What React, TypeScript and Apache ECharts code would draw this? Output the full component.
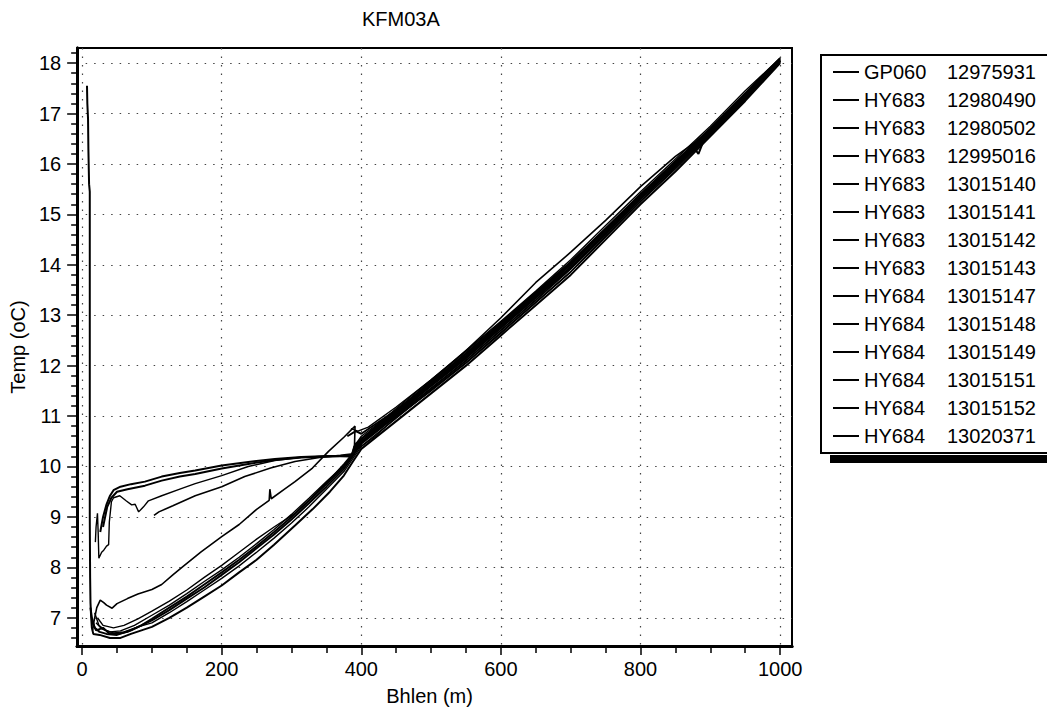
import React, { useEffect, useRef } from "react";
import * as echarts from "echarts";

// ---------- DATA ----------
const chartTitle = "KFM03A";
const xAxisName = "Bhlen (m)";
const yAxisName = "Temp (oC)";

const xMajorTicks = [0, 200, 400, 600, 800, 1000];
const xMinorTicks = [50, 100, 150, 250, 300, 350, 450, 500, 550, 650, 700, 750, 850, 900, 950];
const yMajorTicks = [7, 8, 9, 10, 11, 12, 13, 14, 15, 16, 17, 18];
const yMinorTicks = [
  6.6, 6.8, 7.2, 7.4, 7.6, 7.8, 8.2, 8.4, 8.6, 8.8, 9.2, 9.4, 9.6, 9.8,
  10.2, 10.4, 10.6, 10.8, 11.2, 11.4, 11.6, 11.8, 12.2, 12.4, 12.6, 12.8,
  13.2, 13.4, 13.6, 13.8, 14.2, 14.4, 14.6, 14.8, 15.2, 15.4, 15.6, 15.8,
  16.2, 16.4, 16.6, 16.8, 17.2, 17.4, 17.6, 17.8, 18.2,
];

const seriesNames = [
  "GP060 12975931",
  "HY683 12980490",
  "HY683 12980502",
  "HY683 12995016",
  "HY683 13015140",
  "HY683 13015141",
  "HY683 13015142",
  "HY683 13015143",
  "HY684 13015147",
  "HY684 13015148",
  "HY684 13015149",
  "HY684 13015151",
  "HY684 13015152",
  "HY684 13020371",
];

const s_12975931 = [
  [7, 17.55], [7.5, 17.2], [8.5, 16.9], [9, 16.3], [10, 15.6], [11, 15.45], [11, 14.5], [11, 12.5],
  [11, 10.5], [11, 9], [11.5, 7.8], [12, 7.3], [13, 7.0], [14, 6.8], [16, 6.68], [25, 6.66], [40, 6.6],
  [55, 6.6], [70, 6.68], [85, 6.75], [100, 6.82], [125, 7.0], [150, 7.2], [175, 7.42], [200, 7.64],
  [225, 7.9], [250, 8.15], [275, 8.45], [305, 8.83], [330, 9.15], [355, 9.5], [375, 9.82], [388, 10.1],
  [400, 10.35], [450, 10.9], [500, 11.45], [550, 12.0], [600, 12.6], [650, 13.2], [700, 13.8],
  [750, 14.5], [800, 15.2], [850, 15.85], [900, 16.55], [950, 17.25], [1000, 18.0],
];
const s_12980490 = [
  [14, 7.0], [18, 6.8], [25, 6.72], [35, 6.68], [50, 6.66], [70, 6.75], [100, 6.95], [125, 7.15],
  [150, 7.38], [175, 7.6], [200, 7.85], [225, 8.1], [250, 8.38], [275, 8.65], [300, 8.95], [325, 9.27],
  [350, 9.6], [375, 9.95], [390, 10.25], [400, 10.45], [450, 11.0], [500, 11.55], [550, 12.1],
  [600, 12.7], [650, 13.3], [700, 13.92], [750, 14.6], [800, 15.3], [850, 15.95], [900, 16.62],
  [950, 17.32], [1000, 18.05],
];
const s_12980502 = [
  [20, 6.9], [28, 6.78], [40, 6.72], [55, 6.74], [75, 6.85], [100, 7.05], [125, 7.25], [150, 7.48],
  [175, 7.72], [200, 7.95], [225, 8.2], [250, 8.47], [275, 8.75], [300, 9.05], [325, 9.37], [350, 9.7],
  [375, 10.02], [390, 10.3], [400, 10.5], [450, 11.08], [500, 11.65], [550, 12.22], [600, 12.8],
  [650, 13.4], [700, 14.0], [750, 14.68], [800, 15.38], [850, 16.02], [900, 16.68], [950, 17.38],
  [1000, 18.08],
];
const s_12995016 = [
  [22, 7.0], [30, 6.85], [45, 6.8], [60, 6.85], [80, 6.98], [100, 7.13], [125, 7.33], [150, 7.55],
  [175, 7.8], [200, 8.04], [225, 8.3], [250, 8.56], [275, 8.8], [305, 9.07], [330, 9.4], [355, 9.75],
  [375, 10.05], [390, 10.3], [400, 10.55], [450, 11.15], [500, 11.72], [550, 12.3], [600, 12.88],
  [650, 13.48], [700, 14.1], [750, 14.78], [800, 15.45], [850, 16.1], [900, 16.75], [950, 17.45],
  [1000, 18.1],
];
const s_13015140 = [
  [12, 7.2], [15, 6.9], [20, 6.75], [30, 6.8], [38, 6.7], [50, 6.68], [65, 6.72], [85, 6.85],
  [100, 6.98], [125, 7.2], [150, 7.42], [175, 7.66], [200, 7.9], [225, 8.15], [250, 8.42], [275, 8.7],
  [300, 9.0], [325, 9.32], [350, 9.65], [375, 10.0], [390, 10.28], [400, 10.48], [450, 11.02],
  [500, 11.6], [550, 12.15], [600, 12.75], [650, 13.35], [700, 13.95], [750, 14.62], [800, 15.32],
  [850, 15.98], [900, 16.64], [950, 17.33], [1000, 18.05],
];
const s_13015141 = [
  [15, 6.75], [17, 6.93], [21, 7.2], [26, 7.35], [31, 7.3], [35, 7.25], [43, 7.19], [50, 7.28],
  [65, 7.38], [80, 7.47], [100, 7.56], [114, 7.66], [130, 7.85], [143, 8.0], [170, 8.3], [200, 8.61],
  [225, 8.85], [250, 9.15], [268, 9.33], [269, 9.55], [271, 9.36], [290, 9.55], [305, 9.7],
  [330, 9.97], [353, 10.3], [375, 10.58], [391, 10.8], [390, 10.3], [400, 10.5], [450, 11.1],
  [500, 11.7], [550, 12.3], [600, 12.95], [650, 13.65], [700, 14.25], [750, 14.88], [800, 15.55],
  [850, 16.15], [880, 16.45], [900, 16.7], [950, 17.38], [1000, 18.05],
];
const s_13015142 = [
  [26, 8.7], [30, 9.0], [35, 9.25], [40, 9.42], [45, 9.53], [55, 9.6], [70, 9.65], [90, 9.7],
  [114, 9.8], [140, 9.87], [162, 9.92], [200, 10.02], [238, 10.09], [276, 10.15], [314, 10.19],
  [353, 10.21], [386, 10.2], [390, 10.4], [400, 10.5], [450, 11.05], [500, 11.6], [550, 12.15],
  [600, 12.75], [650, 13.35], [700, 13.95], [750, 14.64], [800, 15.33], [850, 16.0], [875, 16.35],
  [883, 16.2], [890, 16.45], [900, 16.62], [950, 17.3], [1000, 18.02],
];
const s_13015143 = [
  [30, 8.8], [36, 9.2], [42, 9.38], [50, 9.5], [65, 9.55], [90, 9.62], [114, 9.72], [140, 9.8],
  [162, 9.85], [200, 9.96], [238, 10.05], [276, 10.13], [314, 10.18], [353, 10.2], [386, 10.22],
  [392, 10.45], [400, 10.55], [450, 11.1], [500, 11.62], [550, 12.18], [600, 12.78], [650, 13.38],
  [700, 14.0], [750, 14.68], [800, 15.36], [850, 16.02], [900, 16.66], [950, 17.35], [1000, 18.05],
];
const s_13015147 = [
  [19, 8.5], [20, 8.8], [22, 9.07], [23, 8.7], [24, 8.18], [28, 8.3], [31, 8.34], [35, 8.42],
  [38, 8.45], [39, 8.9], [42, 9.3], [45, 9.38], [54, 9.42], [63, 9.32], [71, 9.24], [76, 9.25],
  [81, 9.1], [88, 9.2], [95, 9.32], [114, 9.42], [140, 9.55], [162, 9.66], [200, 9.82], [238, 10.0],
  [276, 10.12], [314, 10.18], [353, 10.21], [388, 10.22], [395, 10.5], [400, 10.6], [450, 11.12],
  [500, 11.68], [550, 12.25], [600, 12.82], [650, 13.42], [700, 14.04], [750, 14.7], [800, 15.38],
  [850, 16.04], [900, 16.68], [950, 17.36], [1000, 18.06],
];
const s_13015148 = [
  [103, 9.03], [110, 9.1], [130, 9.22], [162, 9.42], [200, 9.6], [233, 9.8], [270, 9.97],
  [305, 10.1], [340, 10.18], [370, 10.22], [388, 10.25], [400, 10.55], [450, 11.06], [500, 11.62],
  [550, 12.2], [600, 12.8], [650, 13.4], [700, 14.02], [750, 14.7], [800, 15.37], [850, 16.03],
  [900, 16.68], [950, 17.37], [1000, 18.06],
];
const s_13015149 = [
  [18, 7.1], [24, 6.85], [32, 6.76], [45, 6.7], [60, 6.72], [80, 6.82], [100, 6.9], [125, 7.1],
  [150, 7.32], [175, 7.55], [200, 7.78], [225, 8.03], [250, 8.3], [275, 8.58], [300, 8.88],
  [325, 9.2], [350, 9.55], [375, 9.9], [390, 10.2], [400, 10.4], [450, 10.96], [500, 11.52],
  [550, 12.06], [600, 12.66], [650, 13.26], [700, 13.86], [750, 14.55], [800, 15.25], [850, 15.9],
  [900, 16.58], [950, 17.28], [1000, 18.02],
];
const s_13015151 = [
  [385, 10.75], [395, 10.7], [410, 10.78], [450, 11.18], [500, 11.72], [550, 12.28], [600, 12.86],
  [650, 13.46], [700, 14.06], [750, 14.72], [800, 15.4], [850, 16.06], [900, 16.7], [950, 17.4],
  [1000, 18.08],
];
const s_13015152 = [
  [395, 10.35], [420, 10.6], [450, 10.98], [500, 11.5], [550, 12.05], [600, 12.64], [650, 13.25],
  [700, 13.86], [750, 14.56], [800, 15.26], [850, 15.92], [900, 16.6], [950, 17.3], [1000, 18.03],
];
const s_13020371 = [
  [380, 10.6], [392, 10.7], [400, 10.65], [450, 11.12], [500, 11.66], [550, 12.24], [600, 12.84],
  [650, 13.44], [700, 14.05], [750, 14.72], [800, 15.4], [850, 16.05], [900, 16.7], [950, 17.4],
  [1000, 18.1],
];

const seriesData = [
  s_12975931, s_12980490, s_12980502, s_12995016, s_13015140, s_13015141, s_13015142,
  s_13015143, s_13015147, s_13015148, s_13015149, s_13015151, s_13015152, s_13020371,
];
const seriesWidths = [2, 2, 1.4, 1.4, 2, 1.6, 2, 2, 1.4, 1.6, 1.4, 1.4, 1.4, 2];

const FONT = "'Liberation Sans', Arial, sans-serif";

export default function App() {
  const ref = useRef<HTMLDivElement>(null);

  useEffect(() => {
    document.body.style.margin = "0";
    document.body.style.padding = "0";
    if (!ref.current) return;
    const chart = echarts.init(ref.current, undefined, { renderer: "svg" });

    const xMin = -7.1, xMax = 1017;
    const yMin = 6.44, yMax = 18.3;
    const noSep = (v: number) => String(v);

    const option: any = {
      animation: false,
      backgroundColor: "#ffffff",
      textStyle: { fontFamily: FONT, color: "#000" },
      title: {
        text: chartTitle,
        left: 362,
        top: 9,
        padding: 0,
        textStyle: { fontFamily: FONT, fontSize: 20, fontWeight: "normal", color: "#000" },
      },
      grid: {
        left: 75,
        right: 255,
        top: 48,
        bottom: 63,
        containLabel: false,
        show: true,
        borderColor: "#000",
        borderWidth: 2,
        backgroundColor: "transparent",
      },
      graphic: [
        {
          type: "rect",
          z: 1,
          shape: { x: 830, y: 455, width: 230, height: 8 },
          style: { fill: "#000" },
        },
        {
          type: "rect",
          z: 2,
          shape: { x: 821, y: 55, width: 240, height: 398 },
          style: { fill: "#fff", stroke: "#000", lineWidth: 2 },
        },
      ],
      legend: {
        z: 10,
        orient: "vertical",
        left: 833,
        top: 62,
        padding: 0,
        icon: "rect",
        itemWidth: 26,
        itemHeight: 2,
        itemGap: 8,
        selectedMode: false,
        data: seriesNames,
        formatter: (name: string) => {
          const parts = name.split(" ");
          return `{a|${parts[0]}}{b|${parts[1]}}`;
        },
        textStyle: {
          fontFamily: FONT,
          fontSize: 20,
          lineHeight: 20,
          color: "#000",
          rich: {
            a: { width: 83, fontFamily: FONT, fontSize: 20, lineHeight: 20, color: "#000" },
            b: { fontFamily: FONT, fontSize: 20, lineHeight: 20, color: "#000" },
          },
        },
      },
      xAxis: [
        {
          type: "value",
          min: xMin,
          max: xMax,
          name: xAxisName,
          nameLocation: "middle",
          nameGap: 40,
          nameTextStyle: { fontFamily: FONT, fontSize: 20, color: "#000", padding: [0, 10, 0, 0] },
          axisLine: { show: true, onZero: false, lineStyle: { color: "#000", width: 3 } },
          axisTick: { show: true, inside: false, length: 9, customValues: xMajorTicks, lineStyle: { color: "#000", width: 1.5 } },
          axisLabel: { show: true, margin: 13, customValues: xMajorTicks, formatter: noSep, fontFamily: FONT, fontSize: 20, color: "#000" },
          splitLine: { show: true, lineStyle: { color: "#444", width: 1.2, type: [1.5, 7] } },
        },
        {
          type: "value",
          min: xMin,
          max: xMax,
          position: "bottom",
          offset: 0,
          axisLine: { show: true, onZero: false, lineStyle: { color: "#000", width: 3 } },
          axisTick: { show: true, inside: false, length: 7, customValues: xMinorTicks, lineStyle: { color: "#000", width: 1.5 } },
          axisLabel: { show: false },
          splitLine: { show: false },
        },
      ],
      yAxis: [
        {
          type: "value",
          min: yMin,
          max: yMax,
          name: yAxisName,
          nameLocation: "middle",
          nameGap: 40,
          nameTextStyle: { fontFamily: FONT, fontSize: 20, color: "#000" },
          axisLine: { show: true, onZero: false, lineStyle: { color: "#000", width: 3 } },
          axisTick: { show: true, inside: false, length: 10, customValues: yMajorTicks, lineStyle: { color: "#000", width: 1.5 } },
          axisLabel: { show: true, margin: 16, customValues: yMajorTicks, formatter: noSep, fontFamily: FONT, fontSize: 20, color: "#000" },
          splitLine: { show: true, lineStyle: { color: "#444", width: 1.2, type: [1.5, 7] } },
        },
        {
          type: "value",
          min: yMin,
          max: yMax,
          position: "left",
          offset: 0,
          axisLine: { show: true, onZero: false, lineStyle: { color: "#000", width: 3 } },
          axisTick: { show: true, inside: false, length: 6, customValues: yMinorTicks, lineStyle: { color: "#000", width: 1.5 } },
          axisLabel: { show: false },
          splitLine: { show: false },
        },
      ],
      series: [
        ...seriesNames.map((name, i) => ({
          name,
          type: "line",
          xAxisIndex: 0,
          yAxisIndex: 0,
          data: seriesData[i],
          showSymbol: false,
          symbol: "none",
          smooth: false,
          clip: true,
          z: 3,
          lineStyle: { color: "#000", width: seriesWidths[i] },
          itemStyle: { color: "#000" },
        })),
        {
          name: "minor-axis-anchor",
          type: "line",
          xAxisIndex: 1,
          yAxisIndex: 1,
          data: s_12975931,
          showSymbol: false,
          symbol: "none",
          silent: true,
          z: 0,
          lineStyle: { color: "#000", width: 0, opacity: 0 },
        },
      ],
    };

    chart.setOption(option);
    return () => chart.dispose();
  }, []);

  return <div ref={ref} style={{ width: 1047, height: 711, background: "#fff", overflow: "hidden" }} />;
}
